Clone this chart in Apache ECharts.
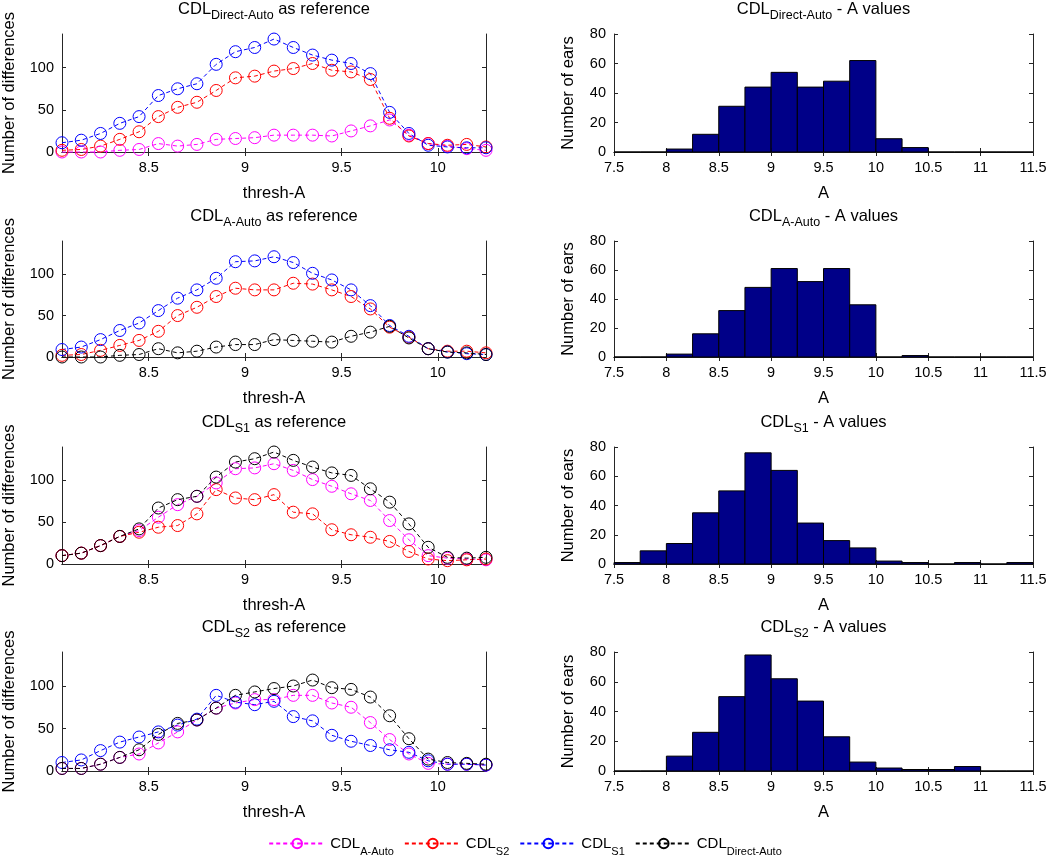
<!DOCTYPE html>
<html><head><meta charset="utf-8">
<script src="https://cdn.jsdelivr.net/npm/echarts@6/dist/echarts.min.js"></script>
<style>html,body{margin:0;padding:0;background:#fff}#c{width:1050px;height:857px}</style>
</head><body><div id="c"></div><script>
// ---------- data ----------
const thresholds = [8.05,8.15,8.25,8.35,8.45,8.55,8.65,8.75,8.85,8.95,9.05,9.15,9.25,9.35,9.45,9.55,9.65,9.75,9.85,9.95,10.05,10.15,10.25];

// Row 1: CDL Direct-Auto as reference
const r1_AAuto = [0,0,0,2,3,10,7,9,15,16,17,20,20,20,19,25,31,38,20,10,7,4,2];
const r1_S2    = [2,3,7,15,24,42,53,59,73,88,90,96,99,105,97,95,86,40,19,10,8,9,6];
const r1_S1    = [11,14,22,34,42,67,75,81,104,119,124,134,124,115,109,105,93,47,22,8,6,5,5];
// Row 2: CDL A-Auto as reference
const r2_S2    = [2,3,8,14,20,31,50,60,73,83,81,81,89,88,81,73,58,36,24,10,7,7,5];
const r2_S1    = [9,12,21,32,41,56,71,81,95,115,116,121,114,101,93,81,62,38,25,10,6,4,3];
const r2_DA    = [0,0,0,2,3,10,5,7,12,15,15,21,20,19,18,25,30,37,23,10,6,5,3];
// Row 3: CDL S1 as reference
const r3_AAuto = [10,13,22,33,40,56,71,81,97,114,115,120,112,101,93,84,76,52,29,10,7,6,5];
const r3_S2    = [10,13,22,33,38,44,46,60,89,79,77,83,62,60,41,35,32,27,15,6,4,5,6];
const r3_DA    = [10,13,22,33,42,67,77,81,104,122,126,134,124,116,109,106,90,74,48,20,8,7,8];
// Row 4: CDL S2 as reference
const r4_AAuto = [3,3,8,16,20,33,46,60,74,80,84,84,89,89,80,75,57,37,20,9,8,8,7];
const r4_S1    = [10,13,24,34,40,46,54,61,89,81,78,82,64,59,42,35,30,25,22,12,8,8,7];
const r4_DA    = [3,3,8,16,25,43,56,60,74,89,93,97,100,107,98,96,87,65,38,14,10,9,8];

// Histograms (A values), bins of width 0.25
const binStarts = [7.5,7.75,8,8.25,8.5,8.75,9,9.25,9.5,9.75,10,10.25,10.5,10.75,11,11.25];
const binWidth = 0.25;
const h_DA    = [0,0,2,12,31,44,54,44,48,62,9,3,0,0,0,0];
const h_AAuto = [0,0,2,16,32,48,61,52,61,36,0,1,0,0,0,0];
const h_S1    = [1,9,14,35,50,76,64,28,16,11,2,1,0,1,0,1];
const h_S2    = [0,0,10,26,50,78,62,47,23,6,2,1,1,3,0,0];

// tick labels
const leftXTicks = [8.5, 9, 9.5, 10];
const leftYTicks = [0, 50, 100];
const rightXTicks = [7.5, 8, 8.5, 9, 9.5, 10, 10.5, 11, 11.5];
const rightYTicks = [0, 20, 40, 60, 80];

const refNames = ['Direct-Auto', 'A-Auto', 'S1', 'S2'];
const legendOrder = ['A-Auto', 'S2', 'S1', 'Direct-Auto'];
const seriesColors = {'A-Auto': '#ff00ff', 'S2': '#ff0000', 'S1': '#0000ff', 'Direct-Auto': '#000000'};
const lineRows = [
  [['A-Auto', r1_AAuto], ['S2', r1_S2], ['S1', r1_S1]],
  [['Direct-Auto', r2_DA], ['S2', r2_S2], ['S1', r2_S1]],
  [['Direct-Auto', r3_DA], ['A-Auto', r3_AAuto], ['S2', r3_S2]],
  [['Direct-Auto', r4_DA], ['A-Auto', r4_AAuto], ['S1', r4_S1]]
];
const histRows = [h_DA, h_AAuto, h_S1, h_S2];

// ---------- layout ----------
const FONT = "'Liberation Sans', Arial, sans-serif";
const AX = '#262626';
const rowTop = [34, 241, 447, 652];
const rowH = [118, 116, 117, 119];
const leftX = 62, leftW = 424, rightX = 614, rightW = 419;

const richTitle = {
  m: {fontSize: 16.5, lineHeight: 25, fontFamily: FONT, color: '#000'},
  s: {fontSize: 12.5, lineHeight: 10, verticalAlign: 'bottom', fontFamily: FONT, color: '#000'}
};

const grids = [], xAxes = [], yAxes = [], series = [];

function addPanel(g, left, width, top, height, xmin, xmax, xt, ymin, ymax, yt, xName, yName, yGap, title) {
  grids.push({left: left, top: top, width: width, height: height, containLabel: false});
  const line = {show: true, lineStyle: {color: AX, width: 1}};
  const tick = (vals) => ({show: true, inside: true, length: 4, customValues: vals, lineStyle: {color: AX, width: 1}});
  const lab = (vals) => ({show: true, customValues: vals, fontSize: 14.5, color: '#000', fontFamily: FONT, margin: 8});
  xAxes.push({type: 'value', gridIndex: g, position: 'bottom', min: xmin, max: xmax,
    axisLine: line, axisTick: tick(xt), axisLabel: lab(xt), splitLine: {show: false},
    name: xName, nameLocation: 'middle', nameGap: 33,
    nameTextStyle: {fontSize: 16.5, color: '#000', fontFamily: FONT}});
  xAxes.push({type: 'value', gridIndex: g, position: 'top', min: xmin, max: xmax,
    axisLine: line, axisTick: tick(xt), axisLabel: {show: false}, splitLine: {show: false},
    name: title, nameLocation: 'middle', nameGap: 12,
    nameTextStyle: {rich: richTitle, fontFamily: FONT}});
  yAxes.push({type: 'value', gridIndex: g, position: 'left', min: ymin, max: ymax,
    axisLine: line, axisTick: tick(yt), axisLabel: lab(yt), splitLine: {show: false},
    name: yName, nameLocation: 'middle', nameGap: yGap,
    nameTextStyle: {fontSize: 16.5, color: '#000', fontFamily: FONT}});
  yAxes.push({type: 'value', gridIndex: g, position: 'right', min: ymin, max: ymax,
    axisLine: line, axisTick: tick(yt), axisLabel: {show: false}, splitLine: {show: false}});
}

let g = 0;
for (let r = 0; r < 4; r++) {
  // left: line panel
  addPanel(g, leftX, leftW, rowTop[r], rowH[r], thresholds[0], thresholds[thresholds.length - 1],
    leftXTicks, 0, 140, leftYTicks, 'thresh-A', 'Number of differences', 44,
    '{m|CDL}{s|' + refNames[r] + '}{m| as reference}');
  lineRows[r].forEach(([name, vals]) => {
    const c = seriesColors[name];
    series.push({
      type: 'line', name: name, xAxisIndex: 2 * g, yAxisIndex: 2 * g,
      data: thresholds.map((t, i) => [t, vals[i]]),
      symbol: 'circle', symbolSize: 12, clip: false,
      lineStyle: {color: c, width: 1, type: [4, 3]},
      itemStyle: {color: 'rgba(255,255,255,0)', borderColor: c, borderWidth: 1},
      emphasis: {disabled: true}, animation: false, z: name === 'Direct-Auto' ? 3 : 2
    });
  });
  g++;
  // right: histogram
  addPanel(g, rightX, rightW, rowTop[r], rowH[r], 7.5, 11.5, rightXTicks, 0, 80, rightYTicks,
    'A', 'Number of ears', 37, '{m|CDL}{s|' + refNames[r] + '}{m| - A values}');
  const counts = histRows[r];
  series.push({
    type: 'custom', name: 'hist' + r, xAxisIndex: 2 * g, yAxisIndex: 2 * g,
    data: binStarts.map((b, i) => [b, counts[i]]),
    encode: {x: 0, y: 1}, animation: false,
    renderItem: function (params, api) {
      const x0 = api.value(0), v = api.value(1);
      const p0 = api.coord([x0, v]);
      const p1 = api.coord([x0 + binWidth, 0]);
      return {type: 'rect', shape: {x: p0[0], y: p0[1], width: p1[0] - p0[0], height: p1[1] - p0[1]},
        style: {fill: '#000088', stroke: '#000', lineWidth: 1}};
    }
  });
  g++;
}

const chart = echarts.init(document.getElementById('c'), null, {renderer: 'canvas'});
chart.setOption({
  backgroundColor: '#fff',
  animation: false,
  textStyle: {fontFamily: FONT},
  grid: grids, xAxis: xAxes, yAxis: yAxes,
  legend: {
    data: legendOrder, left: 'center', top: 831, itemWidth: 56, itemHeight: 12, itemGap: 10,
    formatter: (n) => '{m|CDL}{s|' + n + '}',
    textStyle: {rich: {
      m: {fontSize: 15, lineHeight: 28, fontFamily: FONT, color: '#000'},
      s: {fontSize: 11, lineHeight: 10, verticalAlign: 'bottom', fontFamily: FONT, color: '#000'}
    }},
    selectedMode: false
  },
  series: series
});
</script></body></html>
